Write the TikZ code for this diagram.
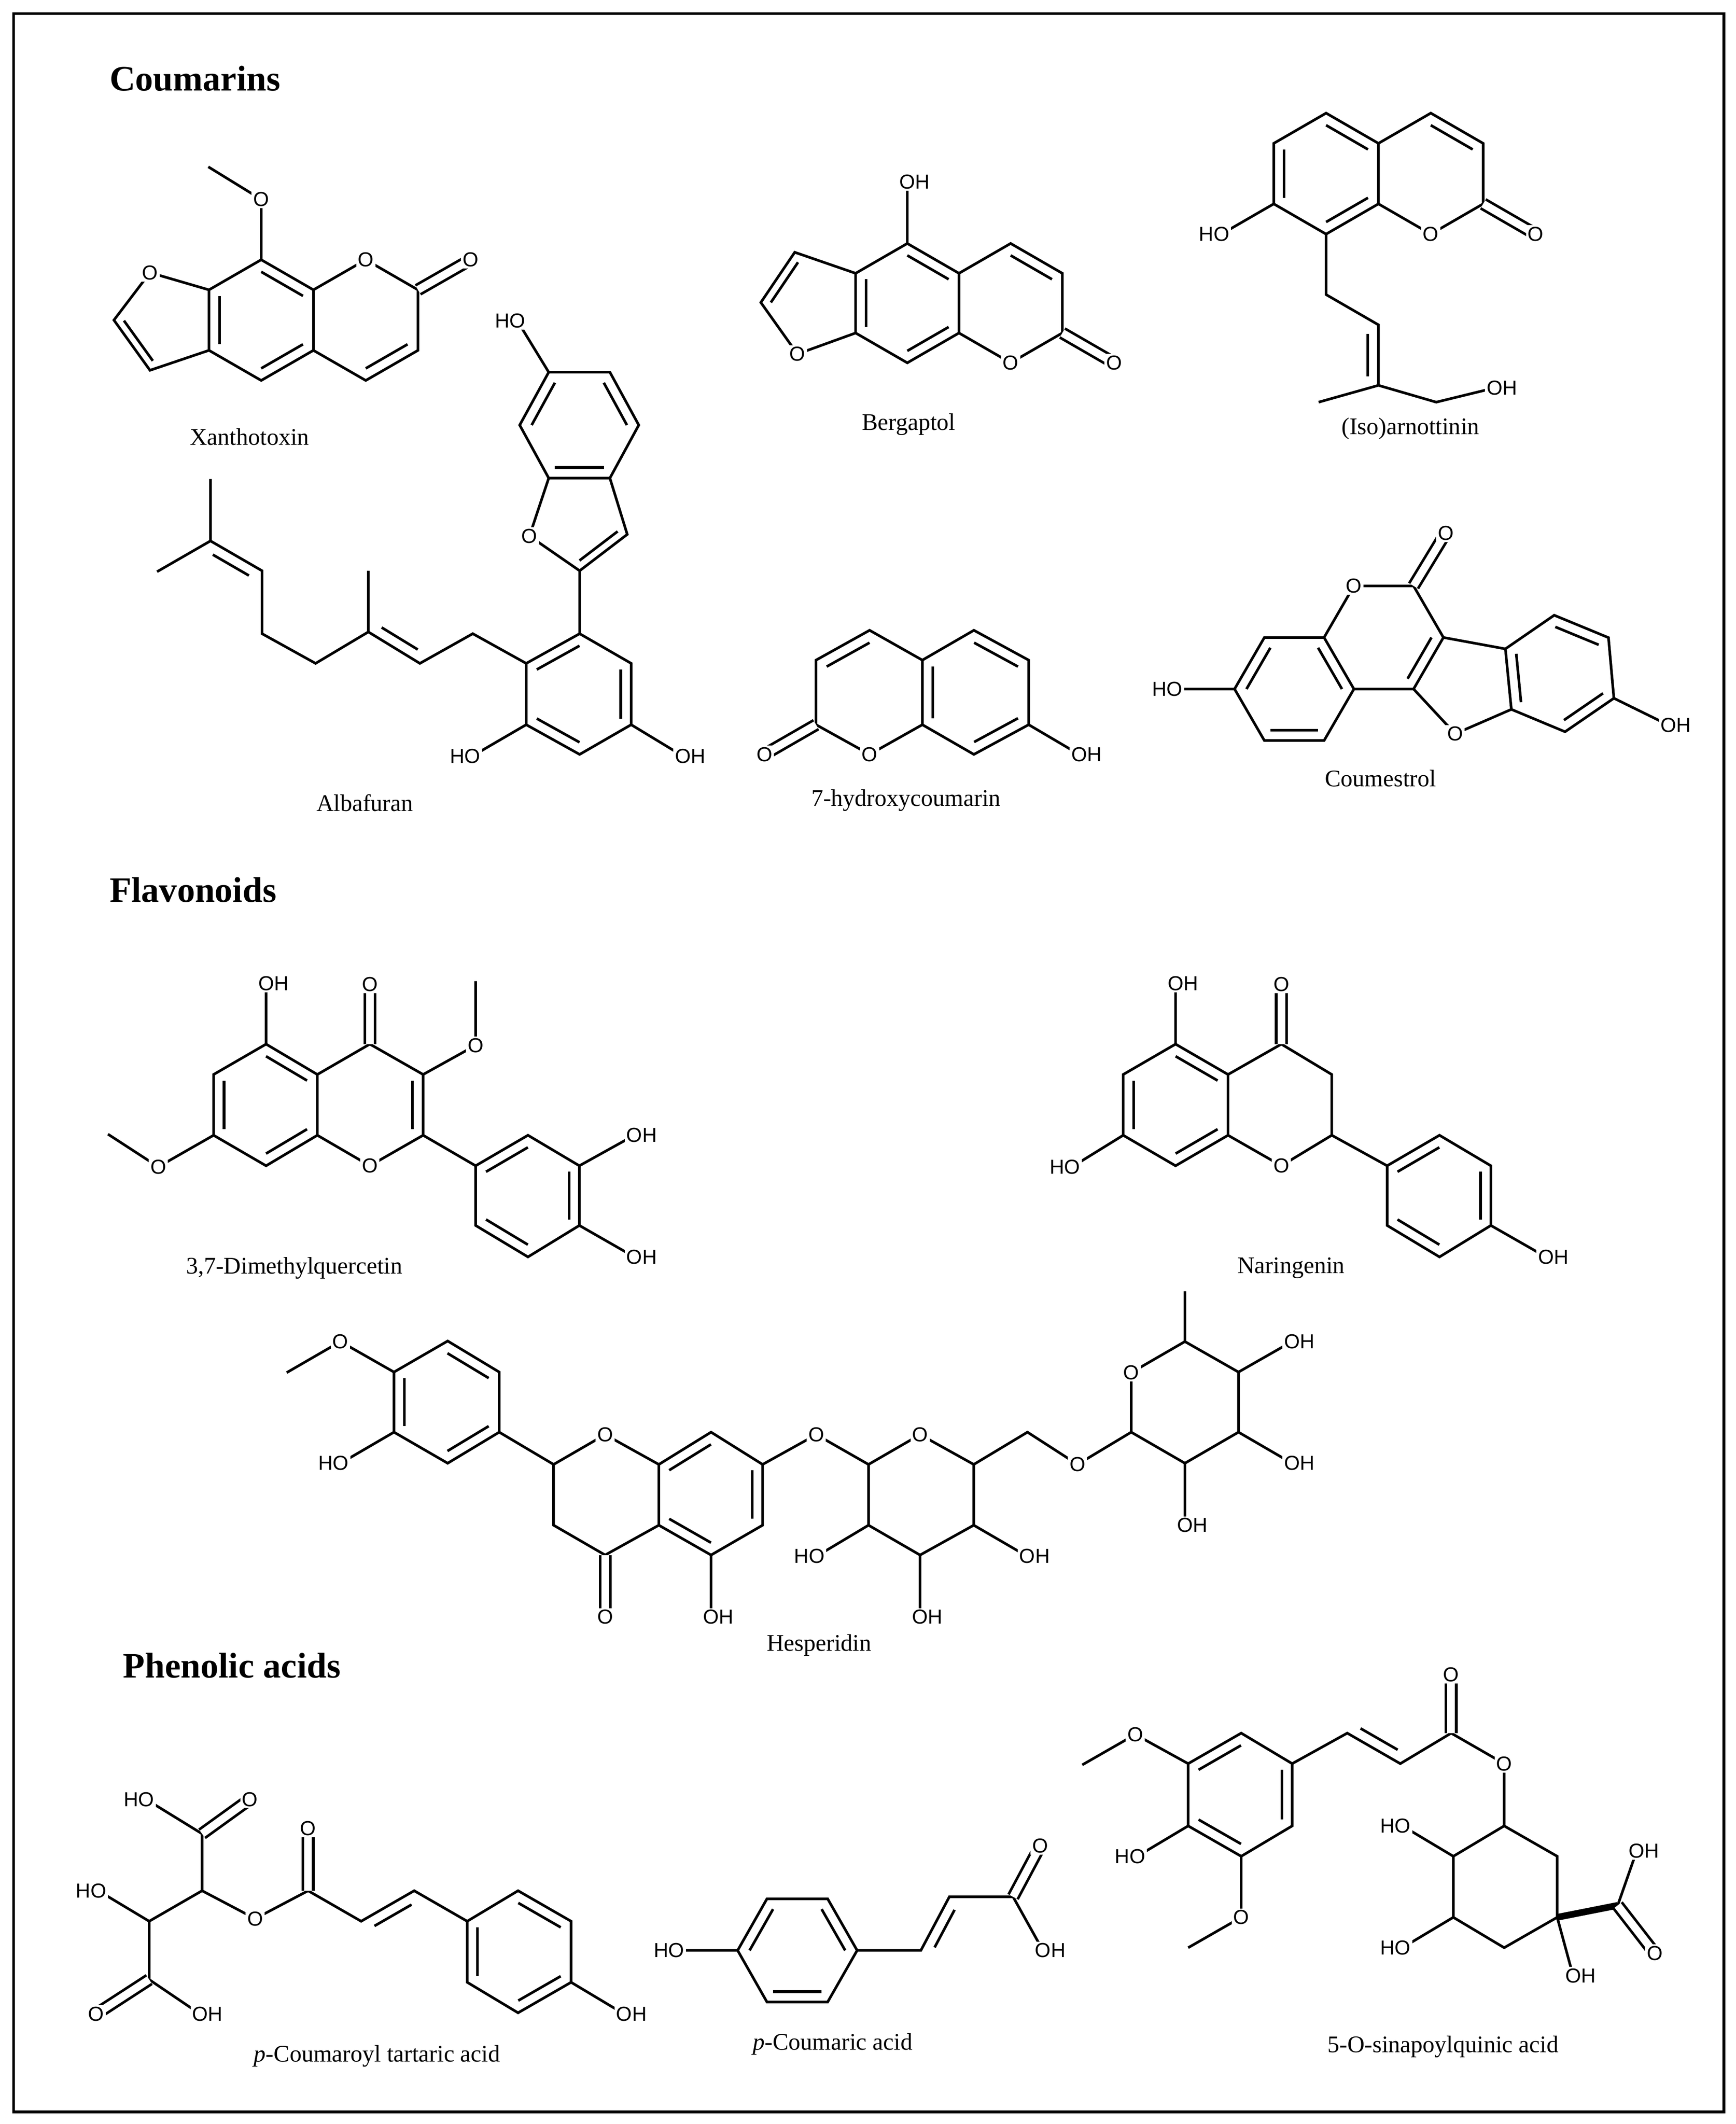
\documentclass[tikz,border=0pt]{standalone}
\usepackage{fontspec}
\setmainfont{Liberation Serif}
\newfontfamily\labf{Liberation Sans}
\usetikzlibrary{calc}
\newcommand\db[3]{\draw ($(#1)!0.2!(#3)$)--($(#2)!0.2!(#3)$);}
\newcommand\dbP[2]{\draw ($(#1)!0.15!(#2)!4.5pt!90:(#2)$)--($(#2)!0.15!(#1)!4.5pt!-90:(#1)$);}
\newcommand\dbM[2]{\draw ($(#1)!0.15!(#2)!4.5pt!-90:(#2)$)--($(#2)!0.15!(#1)!4.5pt!90:(#1)$);}
\tikzset{
 lab/.style={fill=white,inner sep=0.7pt,font=\labf\fontsize{8.5}{9}\selectfont},
 oh/.style={lab,xshift=3.1pt},
 ho/.style={lab,xshift=-3pt},
 nm/.style={font=\fontsize{10}{12}\selectfont},
 ttl/.style={font=\bfseries\fontsize{15}{18}\selectfont,anchor=west},
 dbl/.style={double,double distance=3.2pt},
}
\begin{document}
\begin{tikzpicture}[x=0.02cm,y=-0.02cm,line width=1.1pt]
\useasboundingbox (0,0) rectangle (1280,1566);
\draw[line width=1.2pt] (10,10) rectangle (1271,1557);
\node[ttl] at (74,58){Coumarins};
\node[ttl] at (74,656){Flavonoids};
\node[ttl] at (84,1228){Phenolic acids};

% ---------- Xanthotoxin
\path (192.6,191.5) coordinate(xa1) (231.1,213.7) coordinate(xa2) (231.1,258.3) coordinate(xa3) (192.6,280.5) coordinate(xa4) (154.1,258.3) coordinate(xa5) (154.1,213.7) coordinate(xa6) (192.6,236) coordinate(xac)
 (269.7,191.5) coordinate(xo1) (308.2,213.7) coordinate(xb2) (308.2,258.3) coordinate(xb3) (269.7,280.5) coordinate(xb4) (269.7,236) coordinate(xbc) (347,191.5) coordinate(xeo)
 (192.6,147) coordinate(xmo) (153.6,123) coordinate(xme)
 (110.6,201) coordinate(xfo) (84,236) coordinate(xf1) (110.6,273) coordinate(xf2) (121,238) coordinate(xfc);
\draw (xa1)--(xa2)--(xa3)--(xa4)--(xa5)--(xa6)--cycle;
\draw (xa2)--(xo1)--(xb2)--(xb3)--(xb4)--(xa3);
\draw (xa6)--(xfo)--(xf1)--(xf2)--(xa5);
\draw (xa1)--(xmo)--(xme);
\draw[dbl] (xb2)--(xeo);
\db{xa1}{xa2}{xac}\db{xa5}{xa6}{xac}\db{xa3}{xa4}{xac}\db{xb3}{xb4}{xbc}\db{xf1}{xf2}{xfc}
\node[lab] at (xo1){O};\node[lab] at (xfo){O};\node[lab] at (xmo){O};\node[lab] at (xeo){O};
\node[nm] at (184,322){Xanthotoxin};

% ---------- Bergaptol
\path (669,179.5) coordinate(ga1) (707.1,201.5) coordinate(ga2) (707.1,245.5) coordinate(ga3) (669,267.5) coordinate(ga4) (630.9,245.5) coordinate(ga5) (630.9,201.5) coordinate(ga6) (669,223.5) coordinate(gac)
 (745.2,179.5) coordinate(gb1) (783.3,201.5) coordinate(gb2) (783.3,245.5) coordinate(gb3) (745.2,267.5) coordinate(go) (745.2,223.5) coordinate(gbc) (821.4,267.5) coordinate(geo)
 (669,134) coordinate(goh) (586,186) coordinate(gf1) (561,223) coordinate(gf2) (588,261) coordinate(gfo) (598,223) coordinate(gfc);
\draw (ga1)--(ga2)--(ga3)--(ga4)--(ga5)--(ga6)--cycle;
\draw (ga2)--(gb1)--(gb2)--(gb3)--(go)--(ga3);
\draw (ga6)--(gf1)--(gf2)--(gfo)--(ga5);
\draw (ga1)--(goh);
\draw[dbl] (gb3)--(geo);
\db{ga1}{ga2}{gac}\db{ga3}{ga4}{gac}\db{ga5}{ga6}{gac}\db{gb1}{gb2}{gbc}\db{gf1}{gf2}{gfc}
\node[lab] at (go){O};\node[lab] at (gfo){O};\node[lab] at (geo){O};\node[oh] at (goh){OH};
\node[nm] at (670,313){Bergaptol};

% ---------- (Iso)arnottinin
\path (977.8,83.4) coordinate(l1) (1016.4,105.7) coordinate(l2) (1016.4,150.3) coordinate(l3) (977.8,172.6) coordinate(l4) (939.2,150.3) coordinate(l5) (939.2,105.7) coordinate(l6) (977.8,128) coordinate(lc)
 (1055,83.4) coordinate(r1) (1093.6,105.7) coordinate(r2) (1093.6,150.3) coordinate(r3) (1055,172.6) coordinate(ro) (1055,128) coordinate(rc) (1132.2,172.6) coordinate(reo)
 (900.6,172.6) coordinate(aho) (977.8,217.2) coordinate(ac1) (1016.4,239.5) coordinate(ac2) (1016.4,284.1) coordinate(ac3) (972.3,296.5) coordinate(ame) (1059,296.5) coordinate(ach) (1102,286) coordinate(aoh);
\draw (l1)--(l2)--(l3)--(l4)--(l5)--(l6)--cycle;
\draw (l2)--(r1)--(r2)--(r3)--(ro)--(l3);
\draw[dbl] (r3)--(reo);
\draw (l5)--(aho);
\draw (l4)--(ac1)--(ac2)--(ac3)--(ame) (ac3)--(ach)--(aoh);
\db{l1}{l2}{lc}\db{l3}{l4}{lc}\db{l5}{l6}{lc}\db{r1}{r2}{rc}\dbM{ac2}{ac3}
\node[lab] at (ro){O};\node[lab] at (reo){O};\node[ho] at (aho){HO};\node[oh] at (aoh){OH};
\node[nm] at (1040,316){(Iso)arnottinin};

% ---------- Coumestrol
\path (932.3,470) coordinate(c1) (976.3,470) coordinate(c2) (998.3,508) coordinate(c3) (976.3,546) coordinate(c4) (932.3,546) coordinate(c5) (910.3,508) coordinate(c6) (954.3,508) coordinate(cc)
 (998.3,432) coordinate(co) (1042.3,432) coordinate(cm1) (1064.3,470) coordinate(cm2) (1042.3,508) coordinate(cm3) (1020.3,470) coordinate(cmc) (1066,393) coordinate(ceo)
 (866,508) coordinate(cho) (1073,541) coordinate(cfo) (1114.4,523) coordinate(d6) (1110,478.4) coordinate(d1) (1146,453.6) coordinate(d2) (1186,470.1) coordinate(d3) (1190,514.8) coordinate(d4) (1154,539.5) coordinate(d5) (1150,496.6) coordinate(dc) (1230.3,534.6) coordinate(coh) (1081,502) coordinate(cfc);
\draw (c1)--(c2)--(c3)--(c4)--(c5)--(c6)--cycle;
\draw (c2)--(co)--(cm1)--(cm2)--(cm3)--(c3);
\draw[dbl] (cm1)--(ceo);
\draw (cm2)--(d1) (cm3)--(cfo)--(d6);
\draw (d1)--(d2)--(d3)--(d4)--(d5)--(d6)--cycle;
\draw (c6)--(cho) (d4)--(coh);
\db{c6}{c1}{cc}\db{c2}{c3}{cc}\db{c4}{c5}{cc}\db{cm2}{cm3}{cmc}\db{d1}{d6}{dc}\db{d2}{d3}{dc}\db{d4}{d5}{dc}
\node[lab] at (co){O};\node[lab] at (ceo){O};\node[lab] at (cfo){O};\node[ho] at (cho){HO};\node[oh] at (coh){OH};
\node[nm] at (1018,574){Coumestrol};

% ---------- Albafuran
\path (404.6,274.4) coordinate(u1) (449.7,274.4) coordinate(u2) (471,313.4) coordinate(u3) (449.7,352.5) coordinate(u4) (404.6,352.5) coordinate(u5) (383.2,313.4) coordinate(u6) (427.3,313.4) coordinate(uc)
 (381.5,236.6) coordinate(uho) (390.4,395.2) coordinate(ufo) (427.4,420.8) coordinate(uf2) (462.5,394) coordinate(uf3) (427,383) coordinate(ufc)
 (427.4,467.2) coordinate(m1) (465.4,489.1) coordinate(m2) (465.4,534.3) coordinate(m3) (427.4,556.2) coordinate(m4) (388,534.3) coordinate(m5) (388,489.1) coordinate(m6) (427,511.7) coordinate(mc)
 (348.3,557.4) coordinate(mho) (503.5,557.4) coordinate(moh)
 (348.6,467.2) coordinate(p1) (309.6,489.1) coordinate(p2) (271.6,465.9) coordinate(p3) (271.6,420.8) coordinate(pm1) (232.7,489.1) coordinate(p4) (193.2,467.2) coordinate(p5) (193.2,420.8) coordinate(p6) (155.2,398.8) coordinate(p7) (155.2,353.2) coordinate(pm2) (115.8,421.5) coordinate(pm3);
\draw (u1)--(u2)--(u3)--(u4)--(u5)--(u6)--cycle;
\draw (u1)--(uho) (u5)--(ufo)--(uf2)--(uf3)--(u4) (uf2)--(m1);
\draw (m1)--(m2)--(m3)--(m4)--(m5)--(m6)--cycle;
\draw (m5)--(mho) (m3)--(moh);
\draw (m6)--(p1)--(p2)--(p3)--(pm1) (p3)--(p4)--(p5)--(p6)--(p7)--(pm2) (p7)--(pm3);
\db{u1}{u6}{uc}\db{u2}{u3}{uc}\db{u4}{u5}{uc}\db{uf2}{uf3}{ufc}\db{m1}{m6}{mc}\db{m2}{m3}{mc}\db{m4}{m5}{mc}
\dbM{p2}{p3}\dbP{p6}{p7}
\node[ho] at (uho){HO};\node[lab] at (ufo){O};\node[ho] at (mho){HO};\node[oh] at (moh){OH};
\node[nm] at (269,592){Albafuran};

% ---------- 7-hydroxycoumarin
\path (641.2,464.7) coordinate(h1) (680.1,486.7) coordinate(h2) (680.1,534.3) coordinate(h3) (641.2,556.2) coordinate(ho) (601.7,534.3) coordinate(h5) (601.7,486.7) coordinate(h6) (641,510.5) coordinate(hc)
 (563.7,556.2) coordinate(heo) (718.1,464.7) coordinate(j1) (758.5,486.7) coordinate(j2) (758.5,534.3) coordinate(j3) (718.1,556.2) coordinate(j4) (719,510.5) coordinate(jc) (795.7,556.2) coordinate(joh);
\draw (h1)--(h2)--(h3)--(ho)--(h5)--(h6)--cycle;
\draw (h2)--(j1)--(j2)--(j3)--(j4)--(h3);
\draw[dbl] (h5)--(heo);
\draw (j3)--(joh);
\db{h1}{h6}{hc}\db{j1}{j2}{jc}\db{j3}{j4}{jc}\db{h2}{h3}{jc}
\node[lab] at (ho){O};\node[lab] at (heo){O};\node[oh] at (joh){OH};
\node[nm] at (668,590){7-hydroxycoumarin};

% ---------- 3,7-Dimethylquercetin
\path (196.2,769.8) coordinate(qa1) (234,792.2) coordinate(qa2) (234,837) coordinate(qa3) (196.2,859.5) coordinate(qa4) (157.5,837) coordinate(qa5) (157.5,792.2) coordinate(qa6) (196,814.6) coordinate(qac)
 (272.7,769.8) coordinate(qc4) (312,792.2) coordinate(qc3) (312,837) coordinate(qc2) (272.7,859.5) coordinate(qo1) (273,814.6) coordinate(qcc)
 (272.7,725.8) coordinate(qeo) (196.2,725) coordinate(qoh5) (350.7,770.7) coordinate(qmo3) (350.7,723.4) coordinate(qme3) (116.7,860.3) coordinate(qmo7) (79.6,836.2) coordinate(qme7)
 (350.7,859.5) coordinate(qb1) (389.3,837) coordinate(qb2) (427.2,859.5) coordinate(qb3) (427.2,903.5) coordinate(qb4) (389.3,926.7) coordinate(qb5) (350.7,903.5) coordinate(qb6) (389,881.6) coordinate(qbc) (467.7,837) coordinate(qoh3) (467.7,926.7) coordinate(qoh4);
\draw (qa1)--(qa2)--(qa3)--(qa4)--(qa5)--(qa6)--cycle;
\draw (qa2)--(qc4)--(qc3)--(qc2)--(qo1)--(qa3);
\draw (qa1)--(qoh5) (qc3)--(qmo3)--(qme3) (qa5)--(qmo7)--(qme7) (qc2)--(qb1);
\draw[dbl] (qc4)--(qeo);
\draw (qb1)--(qb2)--(qb3)--(qb4)--(qb5)--(qb6)--cycle;
\draw (qb3)--(qoh3) (qb4)--(qoh4);
\db{qa1}{qa2}{qac}\db{qa5}{qa6}{qac}\db{qa3}{qa4}{qac}\db{qc3}{qc2}{qcc}\db{qb1}{qb2}{qbc}\db{qb3}{qb4}{qbc}\db{qb5}{qb6}{qbc}
\node[oh] at (qoh5){OH};\node[lab] at (qeo){O};\node[lab] at (qmo3){O};\node[lab] at (qmo7){O};\node[lab] at (qo1){O};\node[oh] at (qoh3){OH};\node[oh] at (qoh4){OH};
\node[nm] at (217,935){3,7-Dimethylquercetin};

% ---------- Naringenin
\path (866.8,769.8) coordinate(na1) (905.5,792.2) coordinate(na2) (905.5,837) coordinate(na3) (866.8,859.5) coordinate(na4) (828.2,837) coordinate(na5) (828.2,792.2) coordinate(na6) (867,814.6) coordinate(nac)
 (944.8,769.8) coordinate(nc4) (982,792.2) coordinate(nc3) (982,837) coordinate(nc2) (944.8,859.5) coordinate(no1)
 (944.8,725.8) coordinate(neo) (866.8,725) coordinate(noh5) (790.5,860.3) coordinate(nho7)
 (1022.8,859.5) coordinate(nb1) (1061.4,837) coordinate(nb2) (1099.3,859.5) coordinate(nb3) (1099.3,903.5) coordinate(nb4) (1061.4,926.7) coordinate(nb5) (1022.8,903.5) coordinate(nb6) (1061,881.6) coordinate(nbc) (1139.9,926.7) coordinate(noh4);
\draw (na1)--(na2)--(na3)--(na4)--(na5)--(na6)--cycle;
\draw (na2)--(nc4)--(nc3)--(nc2)--(no1)--(na3);
\draw (na1)--(noh5) (na5)--(nho7) (nc2)--(nb1);
\draw[dbl] (nc4)--(neo);
\draw (nb1)--(nb2)--(nb3)--(nb4)--(nb5)--(nb6)--cycle;
\draw (nb4)--(noh4);
\db{na1}{na2}{nac}\db{na5}{na6}{nac}\db{na3}{na4}{nac}\db{nb1}{nb2}{nbc}\db{nb3}{nb4}{nbc}\db{nb5}{nb6}{nbc}
\node[oh] at (noh5){OH};\node[lab] at (neo){O};\node[ho] at (nho7){HO};\node[lab] at (no1){O};\node[oh] at (noh4){OH};
\node[nm] at (952,935){Naringenin};

% ---------- Hesperidin
\path (290.5,1011.6) coordinate(hb1) (330.1,988.7) coordinate(hb2) (368.1,1011.6) coordinate(hb3) (368.1,1055.9) coordinate(hb4) (330.1,1078.8) coordinate(hb5) (290.5,1055.9) coordinate(hb6) (329.3,1033.8) coordinate(hbc)
 (251,989.1) coordinate(hmo) (211.4,1012) coordinate(hme) (251.2,1078.8) coordinate(hho)
 (408.2,1079.7) coordinate(hc2) (446.2,1057.7) coordinate(ho1) (485.8,1079.7) coordinate(ha8a) (485.8,1124.5) coordinate(ha4a) (446.2,1146.5) coordinate(hc4) (408.2,1124.5) coordinate(hc3) (446.2,1192.2) coordinate(heo2)
 (524.3,1055.9) coordinate(ha8) (562.3,1079.7) coordinate(ha7) (562.3,1124.5) coordinate(ha6) (524.3,1146.5) coordinate(ha5) (524,1101) coordinate(hac) (524.3,1192.2) coordinate(hoh5)
 (601.9,1057.7) coordinate(hgo) (640.4,1079.7) coordinate(g1) (678.4,1057.7) coordinate(go5) (718,1079.7) coordinate(g5) (718,1124.5) coordinate(g4) (678.4,1146.5) coordinate(g3) (640.4,1124.5) coordinate(g2)
 (602.1,1147.4) coordinate(gho2) (757.4,1147.4) coordinate(goh4) (678.4,1192.2) coordinate(goh3)
 (757.6,1055.9) coordinate(g6) (794.5,1079.7) coordinate(hro) (834.1,1055.9) coordinate(rr1) (834.1,1012) coordinate(ro5) (873.7,989.1) coordinate(rr5) (913.2,1011.6) coordinate(rr4) (913.2,1055.9) coordinate(rr3) (873.7,1078.8) coordinate(rr2) (873.7,952) coordinate(rme)
 (952.6,989.1) coordinate(roh4) (952.6,1078.8) coordinate(roh3) (873.7,1124.5) coordinate(roh2);
\draw (hb1)--(hb2)--(hb3)--(hb4)--(hb5)--(hb6)--cycle;
\draw (hb1)--(hmo)--(hme) (hb6)--(hho);
\draw (hb4)--(hc2)--(ho1)--(ha8a)--(ha4a)--(hc4)--(hc3)--(hc2);
\draw[dbl] (hc4)--(heo2);
\draw (ha8a)--(ha8)--(ha7)--(ha6)--(ha5)--(ha4a) (ha5)--(hoh5);
\draw (ha7)--(hgo)--(g1)--(go5)--(g5)--(g4)--(g3)--(g2)--(g1);
\draw (g2)--(gho2) (g4)--(goh4) (g3)--(goh3);
\draw (g5)--(g6)--(hro)--(rr1)--(ro5)--(rr5)--(rr4)--(rr3)--(rr2)--(rr1);
\draw (rr5)--(rme) (rr4)--(roh4) (rr3)--(roh3) (rr2)--(roh2);
\db{hb2}{hb3}{hbc}\db{hb1}{hb6}{hbc}\db{hb4}{hb5}{hbc}\db{ha8a}{ha8}{hac}\db{ha7}{ha6}{hac}\db{ha4a}{ha5}{hac}
\node[lab] at (hmo){O};\node[ho] at (hho){HO};\node[lab] at (ho1){O};\node[lab] at (heo2){O};\node[oh] at (hoh5){OH};
\node[lab] at (hgo){O};\node[lab] at (go5){O};\node[ho] at (gho2){HO};\node[oh] at (goh4){OH};\node[oh] at (goh3){OH};
\node[lab] at (hro){O};\node[lab] at (ro5){O};\node[oh] at (roh4){OH};\node[oh] at (roh3){OH};\node[oh] at (roh2){OH};
\node[nm] at (604,1213){Hesperidin};

% ---------- p-Coumaroyl tartaric acid
\path (149,1352) coordinate(tc1) (107.7,1326.6) coordinate(tho1) (184.2,1326.6) coordinate(teo1) (149,1394) coordinate(tc2) (188.1,1414.6) coordinate(to) (227.2,1394) coordinate(te) (227.2,1348.1) coordinate(teo)
 (266.3,1416.5) coordinate(tk1) (305.4,1394) coordinate(tk2) (110,1416.5) coordinate(tc3) (72.5,1394) coordinate(tho2) (110,1459.5) coordinate(tc4) (70.9,1484.9) coordinate(teo2) (147.5,1484.9) coordinate(toh)
 (344.5,1416.5) coordinate(tr1) (382,1394) coordinate(tr2) (421.1,1416.5) coordinate(tr3) (421.1,1461.5) coordinate(tr4) (382,1484) coordinate(tr5) (344.5,1461.5) coordinate(tr6) (382.8,1439) coordinate(trc) (460.2,1484.9) coordinate(troh);
\draw (tho1)--(tc1)--(tc2)--(to)--(te)--(tk1)--(tk2)--(tr1) (tc2)--(tc3)--(tho2) (tc3)--(tc4)--(toh);
\draw[dbl] (tc1)--(teo1);\draw[dbl] (te)--(teo);\draw[dbl] (tc4)--(teo2);
\draw (tr1)--(tr2)--(tr3)--(tr4)--(tr5)--(tr6)--cycle;
\draw (tr4)--(troh);
\dbM{tk1}{tk2}\db{tr2}{tr3}{trc}\db{tr1}{tr6}{trc}\db{tr4}{tr5}{trc}
\node[ho] at (tho1){HO};\node[lab] at (teo1){O};\node[lab] at (to){O};\node[lab] at (teo){O};\node[ho] at (tho2){HO};\node[lab] at (teo2){O};\node[oh] at (toh){OH};\node[oh] at (troh){OH};
\node[nm] at (278,1516){\textit{p}-Coumaroyl tartaric acid};

% ---------- p-Coumaric acid
\path (543.9,1438) coordinate(k1) (565.5,1400) coordinate(k2) (610.3,1400) coordinate(k3) (632,1438) coordinate(k4) (610.3,1476) coordinate(k5) (565.5,1476) coordinate(k6) (588,1438) coordinate(kc)
 (498.5,1438) coordinate(kho) (679,1438) coordinate(kk1) (700,1398.5) coordinate(kk2) (747,1398.5) coordinate(kk3) (767,1361) coordinate(keo) (769,1438) coordinate(koh);
\draw (k1)--(k2)--(k3)--(k4)--(k5)--(k6)--cycle;
\draw (kho)--(k1) (k4)--(kk1)--(kk2)--(kk3)--(koh);
\draw[dbl] (kk3)--(keo);
\db{k1}{k2}{kc}\db{k3}{k4}{kc}\db{k5}{k6}{kc}\dbM{kk1}{kk2}
\node[ho] at (kho){HO};\node[lab] at (keo){O};\node[oh] at (koh){OH};
\node[nm] at (614,1507){\textit{p}-Coumaric acid};

% ---------- 5-O-sinapoylquinic acid
\path (876.1,1300.3) coordinate(s1) (915.2,1277.8) coordinate(s2) (952.8,1300.3) coordinate(s3) (952.8,1346.2) coordinate(s4) (915.2,1368.6) coordinate(s5) (876.1,1346.2) coordinate(s6) (914.4,1323) coordinate(sc)
 (837.1,1278.8) coordinate(smo1) (798,1301.2) coordinate(sme1) (838.6,1368.6) coordinate(sho) (915.2,1413.6) coordinate(smo2) (876.1,1436) coordinate(sme2)
 (993.4,1277.8) coordinate(st1) (1032.5,1300.3) coordinate(st2) (1070,1277.8) coordinate(st3) (1070,1234.8) coordinate(steo) (1109.1,1300.3) coordinate(sto)
 (1109.1,1346.2) coordinate(q5) (1148.2,1368.6) coordinate(q6) (1148.2,1413.6) coordinate(q1) (1109.1,1436) coordinate(q2) (1071.6,1413.6) coordinate(q3) (1071.6,1368.6) coordinate(q4)
 (1034.1,1346.2) coordinate(qho4) (1034.1,1436) coordinate(qho3) (1192.8,1404.8) coordinate(qcx) (1206.8,1364.7) coordinate(qcoh) (1220.1,1440) coordinate(qceo) (1159.9,1456.6) coordinate(q1oh);
\draw (s1)--(s2)--(s3)--(s4)--(s5)--(s6)--cycle;
\draw (s1)--(smo1)--(sme1) (s6)--(sho) (s5)--(smo2)--(sme2);
\draw (s3)--(st1)--(st2)--(st3)--(sto)--(q5);
\draw[dbl] (st3)--(steo);
\draw (q5)--(q6)--(q1)--(q2)--(q3)--(q4)--cycle;
\draw (q4)--(qho4) (q3)--(qho3) (q1)--(q1oh) (qcx)--(qcoh);
\draw[line width=2.8pt] (q1)--(qcx);
\draw[dbl] (qcx)--(qceo);
\db{s1}{s2}{sc}\db{s3}{s4}{sc}\db{s5}{s6}{sc}\dbP{st1}{st2}
\node[lab] at (smo1){O};\node[ho] at (sho){HO};\node[lab] at (smo2){O};\node[lab] at (steo){O};\node[lab] at (sto){O};
\node[ho] at (qho4){HO};\node[ho] at (qho3){HO};\node[oh] at (qcoh){OH};\node[lab] at (qceo){O};\node[oh] at (q1oh){OH};
\node[nm] at (1064,1509){5-O-sinapoylquinic acid};
\end{tikzpicture}
\end{document}
